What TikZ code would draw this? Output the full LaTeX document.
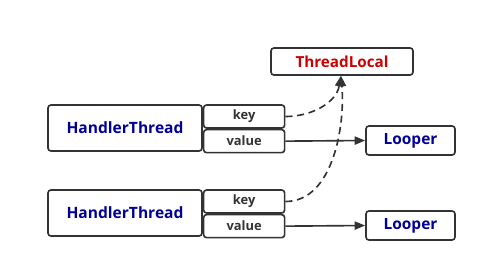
\documentclass[tikz,border=0pt]{standalone}
\usepackage{fontspec}
\setmainfont{Open Sans}
\usetikzlibrary{positioning,arrows.meta}

\definecolor{edgegray}{HTML}{333333}
\definecolor{classblue}{HTML}{000099}
\definecolor{localred}{HTML}{CC0000}
\def \px {0.03cm}

\tikzset{
  box/.style = {draw=edgegray, line width=1.4pt, rounded corners=2.5pt,
                inner sep=0pt, font=\bfseries},
  threadbox/.style = {box, text=classblue, minimum width=154*\px, minimum height=46*\px, font=\fontsize{13.3}{15}\bfseries},
  slotbox/.style = {box, text=edgegray, minimum width=81*\px, minimum height=23*\px, font=\fontsize{11}{13}\bfseries},
  looperbox/.style = {box, text=classblue, minimum width=89*\px, minimum height=29*\px, font=\fontsize{13.2}{15}\bfseries},
  localbox/.style = {box, text=localred, minimum width=142*\px, minimum height=27*\px, font=\fontsize{13}{15}\bfseries},
  link/.style = {draw=edgegray, line width=1.4pt, -{Triangle[length=9pt, width=7pt]}},
  weak/.style = {link, dash pattern=on 6pt off 4pt},
}

\begin{document}
\begin{tikzpicture}[x=0.03cm, y=-0.03cm]
  \useasboundingbox (0,0) rectangle (485,272);

  % ThreadLocal at the top
  \node[localbox] (local) at (342, 61.5) {ThreadLocal};

  % Two threads, each with a key/value slot pair and its Looper
  \foreach \n/\y in {1/128, 2/213} {
    \node[threadbox] (thread\n) at (125, \y) {HandlerThread};
    \node[slotbox, anchor=north west] (key\n) at (thread\n.north east) {key};
    \node[slotbox, below=0pt of key\n] (value\n) {value};
    \node[looperbox] (looper\n) at (410.5, {\y + 12.5}) {Looper};
    \draw[link] (value\n.east) -- (looper\n.west);
  };

  % keys point back to ThreadLocal
  \draw[weak] (key1.east) to[out=0, in=-100] ([xshift=-1*\px]local.south);
  \draw[weak] (key2.east) to[out=0, in=-85, looseness=0.9] ([xshift=-1*\px]local.south);
\end{tikzpicture}
\end{document}
